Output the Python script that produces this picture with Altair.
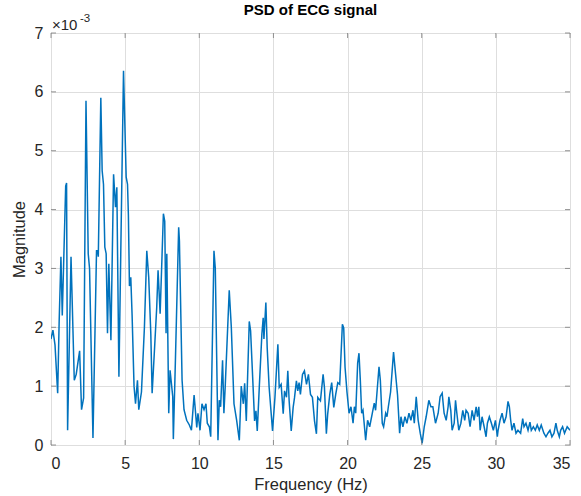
import altair as alt
import pandas as pd

# Frequency (Hz) and PSD magnitude (in units of 1e-3)
freq = [0.00, 0.13, 0.27, 0.45, 0.55, 0.67, 0.76, 0.99, 1.05, 1.12, 1.35, 1.57, 1.70, 1.93, 2.06, 2.20,
        2.36, 2.51, 2.60, 2.83, 3.07, 3.14, 3.19, 3.36, 3.45, 3.54, 3.63, 3.72, 3.81, 3.90, 4.04,
        4.22, 4.35, 4.44, 4.58, 4.89, 5.07, 5.16, 5.22, 5.29, 5.38, 5.47, 5.60, 5.70, 5.83, 5.92,
        6.10, 6.30, 6.46, 6.59, 6.73, 6.82, 7.00, 7.13, 7.22, 7.36, 7.58, 7.67, 7.76, 7.81, 7.94,
        8.03, 8.21, 8.25, 8.39, 8.61, 8.66, 8.84, 8.97, 9.15, 9.33, 9.47, 9.65, 9.83, 9.91, 10.05,
        10.18, 10.32, 10.45, 10.54, 10.68, 10.77, 10.99, 11.08, 11.26, 11.35, 11.44, 11.57, 11.66,
        11.75, 12.02, 12.16, 12.34, 12.52, 12.70, 12.83, 12.97, 13.06, 13.17, 13.37, 13.46, 13.55,
        13.73, 13.82, 13.91, 14.05, 14.22, 14.31, 14.36, 14.49, 14.58, 14.71, 14.94, 15.10, 15.30,
        15.39, 15.52, 15.66, 15.75, 15.88, 15.97, 16.06, 16.20, 16.33, 16.42, 16.55, 16.64, 16.73,
        16.82, 16.96, 17.09, 17.23, 17.36, 17.50, 17.63, 17.77, 17.90, 17.99, 18.17, 18.35, 18.44,
        18.57, 18.66, 18.80, 18.93, 19.07, 19.20, 19.34, 19.47, 19.65, 19.74, 19.83, 19.96, 20.10,
        20.23, 20.37, 20.46, 20.55, 20.68, 20.77, 20.86, 20.95, 21.04, 21.22, 21.35, 21.49, 21.67,
        21.80, 21.89, 22.12, 22.21, 22.34, 22.43, 22.57, 22.66, 22.75, 22.90, 23.10, 23.24, 23.37,
        23.51, 23.60, 23.73, 23.87, 24.00, 24.14, 24.27, 24.41, 24.50, 24.63, 24.76, 24.90, 25.03,
        25.17, 25.30, 25.48, 25.62, 25.75, 25.93, 26.11, 26.24, 26.38, 26.51, 26.65, 26.78, 26.83,
        26.96, 27.05, 27.19, 27.28, 27.37, 27.50, 27.64, 27.77, 27.90, 27.99, 28.13, 28.26, 28.40,
        28.53, 28.67, 28.76, 28.85, 28.94, 29.07, 29.21, 29.34, 29.43, 29.56, 29.70, 29.83, 29.97,
        30.10, 30.15, 30.28, 30.42, 30.55, 30.69, 30.82, 30.91, 31.00, 31.09, 31.22, 31.36, 31.49,
        31.67, 31.81, 31.90, 32.03, 32.17, 32.30, 32.39, 32.53, 32.66, 32.79, 32.93, 33.06, 33.24,
        33.38, 33.51, 33.65, 33.78, 33.92, 34.05, 34.14, 34.28, 34.37, 34.50, 34.63, 34.81, 35.00]

mag_e3 = [1.80, 1.95, 1.70, 0.88, 2.10, 3.20, 2.20, 4.40, 4.45, 0.25, 3.20, 1.10, 1.20, 1.60, 0.60, 0.80,
          5.85, 3.25, 3.00, 0.12, 3.30, 3.30, 3.20, 5.90, 4.66, 4.43, 3.36, 3.25, 1.90, 3.08, 1.78,
          4.60, 4.04, 4.38, 1.16, 6.36, 4.55, 4.43, 3.90, 2.70, 2.85, 2.20, 1.00, 0.70, 1.10, 0.60,
          0.90, 2.00, 3.30, 2.85, 1.90, 0.88, 1.72, 2.34, 2.97, 2.23, 3.93, 3.80, 1.90, 3.25, 0.54,
          1.27, 0.82, 0.10, 1.44, 3.70, 3.47, 1.10, 0.60, 0.42, 0.34, 0.25, 0.85, 0.30, 0.54, 0.25,
          0.70, 0.60, 0.70, 0.37, 0.31, 0.14, 3.30, 3.00, 0.08, 0.76, 0.65, 1.44, 0.54,
          1.00, 2.63, 2.00, 0.70, 0.42, 0.08, 1.00, 0.70, 1.05, 0.41, 2.10, 1.94, 1.43,
          0.41, 0.58, 0.24, 1.00, 1.88, 2.16, 1.80, 2.42, 1.65, 0.98, 0.24, 0.80, 1.71,
          0.98, 1.03, 0.53, 0.92, 0.81, 1.26, 0.75, 0.24, 0.64, 0.80, 1.09, 0.92, 1.06,
          0.86, 1.20, 1.26, 1.03, 1.20, 0.86, 0.81, 0.41, 0.19, 0.81, 0.75, 1.20, 0.98,
          0.19, 0.53, 0.86, 1.06, 0.64, 0.86, 1.06, 1.03, 2.05, 1.99, 1.32, 0.90, 0.54,
          0.65, 0.37, 0.65, 0.54, 1.39, 1.56, 1.10, 0.54, 0.59, 0.08, 0.42, 0.31, 0.54,
          0.71, 0.59, 1.33, 1.10, 0.37, 0.31, 0.54, 0.48, 0.65, 0.90, 1.58, 1.20, 0.85,
          0.20, 0.48, 0.31, 0.48, 0.37, 0.54, 0.42, 0.59, 0.37, 0.82, 0.42, 0.20, 0.03,
          0.31, 0.48, 0.76, 0.65, 0.65, 0.37, 0.54, 0.82, 0.88, 0.54, 0.42, 0.65, 0.82,
          0.59, 0.25, 0.37, 0.76, 0.54, 0.25, 0.37, 0.59, 0.42, 0.59, 0.54, 0.31, 0.59,
          0.42, 0.65, 0.48, 0.65, 0.25, 0.48, 0.31, 0.14, 0.37, 0.48, 0.37, 0.25, 0.42,
          0.14, 0.25, 0.42, 0.54, 0.37, 0.48, 0.74, 0.65, 0.42, 0.25, 0.37, 0.20, 0.25,
          0.20, 0.45, 0.31, 0.37, 0.25, 0.39, 0.25, 0.31, 0.25, 0.34, 0.25, 0.34, 0.20,
          0.14, 0.20, 0.25, 0.14, 0.20, 0.37, 0.25, 0.14, 0.25, 0.31, 0.20, 0.31, 0.25]

x_ticks = [0, 5, 10, 15, 20, 25, 30, 35]
y_ticks = [0, 1, 2, 3, 4, 5, 6, 7]
title_text = "PSD of ECG signal"

W, H = 519, 412
FONT = "Liberation Sans"
AX = "#262626"
FRAME = "#7a7a7a"
GRID = "#dedede"

df = pd.DataFrame({"f": freq, "m": mag_e3})
tx = pd.DataFrame({"f": x_ticks})
ty = pd.DataFrame({"m": y_ticks})

xs = alt.Scale(domain=[0, 35], nice=False, zero=False)
ys = alt.Scale(domain=[0, 7], nice=False, zero=False)
x_axis = alt.Axis(values=x_ticks, title="Frequency (Hz)", labelPadding=10, titlePadding=5)
y_axis = alt.Axis(values=y_ticks, title="Magnitude", labelPadding=8, titlePadding=7)

line = alt.Chart(df).mark_line(color="#0072BD", strokeWidth=1.5, clip=True).encode(
    x=alt.X("f:Q", scale=xs, axis=x_axis),
    y=alt.Y("m:Q", scale=ys, axis=y_axis),
)

tick_len = 5
bot = alt.Chart(tx).mark_rule(color=FRAME, strokeWidth=0.8).encode(
    x=alt.X("f:Q", scale=xs, axis=x_axis), y=alt.value(H), y2=alt.value(H - tick_len))
top = alt.Chart(tx).mark_rule(color=FRAME, strokeWidth=0.8).encode(
    x=alt.X("f:Q", scale=xs, axis=x_axis), y=alt.value(0), y2=alt.value(tick_len))
left = alt.Chart(ty).mark_rule(color=FRAME, strokeWidth=0.8).encode(
    y=alt.Y("m:Q", scale=ys, axis=y_axis), x=alt.value(0), x2=alt.value(tick_len))
right = alt.Chart(ty).mark_rule(color=FRAME, strokeWidth=0.8).encode(
    y=alt.Y("m:Q", scale=ys, axis=y_axis), x=alt.value(W), x2=alt.value(W - tick_len))

exp_base = alt.Chart(pd.DataFrame({"s": ["\u00d710"]})).mark_text(
    align="left", baseline="alphabetic", font=FONT, fontSize=15, color=AX).encode(
    text="s:N", x=alt.value(1), y=alt.value(-3))
exp_pow = alt.Chart(pd.DataFrame({"s": ["-3"]})).mark_text(
    align="left", baseline="alphabetic", font=FONT, fontSize=11.5, color=AX).encode(
    text="s:N", x=alt.value(29), y=alt.value(-11))
title = alt.Chart(pd.DataFrame({"s": [title_text]})).mark_text(
    align="center", baseline="alphabetic", font=FONT, fontSize=15, fontWeight="bold",
    color="#000000").encode(text="s:N", x=alt.value(W / 2), y=alt.value(-18))

chart = alt.layer(line, bot, top, left, right, exp_base, exp_pow, title).properties(
    width=W, height=H,
    background="white",
    autosize=alt.AutoSizeParams(type="none"),
    padding={"left": 51, "top": 33, "right": 11, "bottom": 51},
).configure_view(stroke=FRAME, strokeWidth=1).configure_axis(
    domain=False, ticks=False, grid=True, gridColor=GRID, gridWidth=1,
    labelFont=FONT, labelFontSize=16, labelColor=AX,
    titleFont=FONT, titleFontSize=16.5, titleFontWeight="normal", titleColor=AX,
)

chart.save("out.html", embed_options={"renderer": "svg", "actions": False})
